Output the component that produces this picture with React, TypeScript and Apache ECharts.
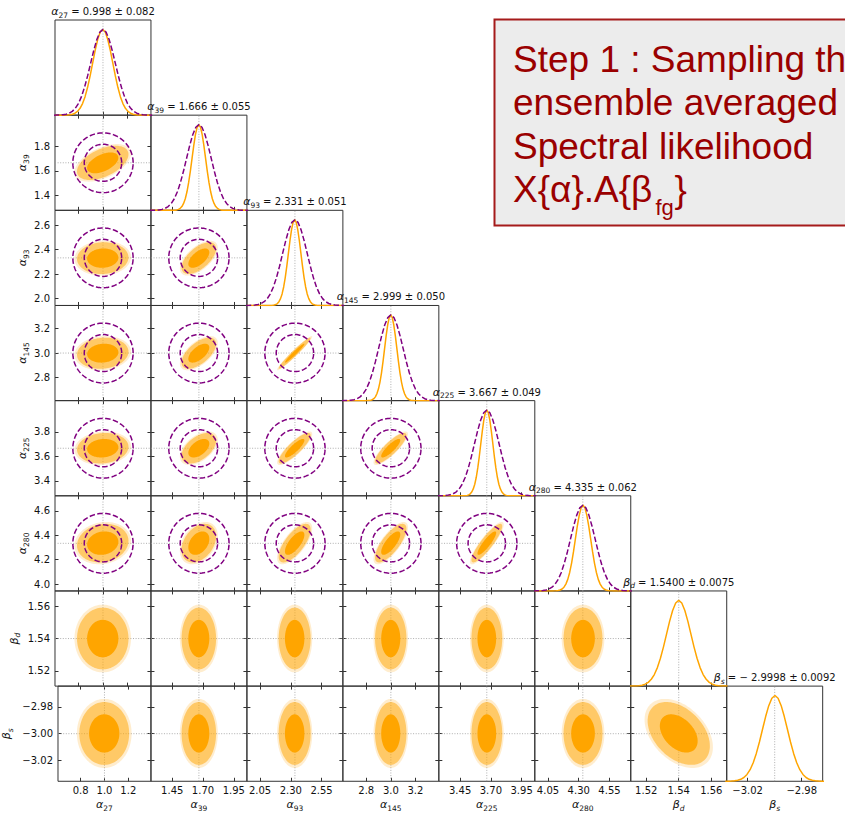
import React, { useEffect, useRef } from "react";
import * as echarts from "echarts";

// ---------------- data ----------------
const PARAM_SYMBOL = ["α", "α", "α", "α", "α", "α", "β", "β"];
const PARAM_SUB = ["27", "39", "93", "145", "225", "280", "d", "s"];
const SUB_ITALIC = [false, false, false, false, false, false, true, true];
const TRUTH = [1.0, 1.6667, 2.3333, 3.0, 3.6667, 4.3333, 1.54, -3.0];
const POST_MEAN = [0.998, 1.666, 2.331, 2.999, 3.667, 4.335, 1.54, -2.9998];
const POST_SIGMA = [0.082, 0.055, 0.051, 0.05, 0.049, 0.062, 0.0075, 0.0092];
const TITLE_VALUE = [
  "0.998 ± 0.082",
  "1.666 ± 0.055",
  "2.331 ± 0.051",
  "2.999 ± 0.050",
  "3.667 ± 0.049",
  "4.335 ± 0.062",
  "1.5400 ± 0.0075",
  "− 2.9998 ± 0.0092",
];
const PRIOR_SIGMA = [0.1, 0.1, 0.1, 0.1, 0.1, 0.1, 0, 0]; // 0 : no prior drawn
const AXIS_MIN = [0.61, 1.277, 1.943, 2.61, 3.277, 3.943, 1.5105, -3.0355];
const AXIS_MAX = [1.39, 2.057, 2.723, 3.39, 4.057, 4.723, 1.5695, -2.9645];
const X_TICKS = [
  [0.8, 1.0, 1.2],
  [1.45, 1.7, 1.95],
  [2.05, 2.3, 2.55],
  [2.8, 3.0, 3.2],
  [3.45, 3.7, 3.95],
  [4.05, 4.3, 4.55],
  [1.52, 1.54, 1.56],
  [-3.02, -2.98],
];
const X_DECIMALS = [1, 2, 2, 1, 2, 2, 2, 2];
const Y_TICKS = [
  [],
  [1.4, 1.6, 1.8],
  [2.0, 2.2, 2.4, 2.6],
  [2.8, 3.0, 3.2],
  [3.4, 3.6, 3.8],
  [4.0, 4.2, 4.4, 4.6],
  [1.52, 1.54, 1.56],
  [-3.02, -3.0, -2.98],
];
const Y_DECIMALS = [1, 1, 1, 1, 1, 1, 2, 2];
// correlation of (row param, column param), lower triangle
const RHO = [
  [],
  [0.5],
  [0.05, 0.6],
  [0.1, 0.6, 0.97],
  [0.1, 0.5, 0.85, 0.85],
  [0.12, 0.35, 0.7, 0.75, 0.88],
  [0.0, 0.0, 0.0, 0.0, 0.0, 0.0],
  [0.0, 0.0, 0.0, 0.0, 0.0, 0.0, -0.4],
];
const CLOUD_LEVELS = [2.8, 2.55, 1.55];
const PRIOR_LEVELS = [1.52, 2.45];
// normalised 1D profile (offset in sigma, height)
const PROFILE_OFFSET = [
  -4, -3.75, -3.5, -3.25, -3, -2.75, -2.5, -2.25, -2, -1.75, -1.5, -1.25, -1, -0.75, -0.5, -0.25, 0,
  0.25, 0.5, 0.75, 1, 1.25, 1.5, 1.75, 2, 2.25, 2.5, 2.75, 3, 3.25, 3.5, 3.75, 4,
];
const PROFILE_HEIGHT = [
  0.0, 0.001, 0.002, 0.005, 0.011, 0.023, 0.044, 0.08, 0.135, 0.216, 0.325, 0.458, 0.607, 0.755, 0.882, 0.969, 1.0,
  0.969, 0.882, 0.755, 0.607, 0.458, 0.325, 0.216, 0.135, 0.08, 0.044, 0.023, 0.011, 0.005, 0.002, 0.001, 0.0,
];
const BOX_LINES = ["Step 1 : Sampling the", "ensemble averaged", "Spectral likelihood"];
const BOX_LAST = ["X{α}.A{β", "fg", "}"];

// ---------------- style ----------------
const FONT = "DejaVu Sans";
const BOX_FONT = "Liberation Sans";
const TXT = "#111";
const AX = "#333";
const ORANGE = "#FFA500";
const PURPLE = "#800080";
const BOX_RED = "#9a0000";
const N = 8;
const LEFT = 55;
const TOP = 20;
const CW = 95.96;
const CH = 95.16;
const TICK_LEN = 3.5;
const DASH = [5.5, 2.4];
const Y_NAME_GAP = [25, 25, 25, 25, 25, 25, 33.5, 44];

const fmt = (v: number, d: number) => v.toFixed(d).replace("-", "\u2212");

const subStyle = (italic: boolean) => ({
  fontFamily: FONT,
  fontSize: 7.5,
  fontStyle: italic ? "italic" : "normal",
  color: TXT,
  fill: TXT,
  verticalAlign: "bottom",
});
const RICH = {
  g: { fontFamily: FONT, fontStyle: "italic", fontSize: 11, color: TXT, fill: TXT, lineHeight: 15 },
  s: subStyle(false),
  si: subStyle(true),
  n: { fontFamily: FONT, fontSize: 10, color: TXT, fill: TXT, lineHeight: 15 },
};
const symText = (p: number) =>
  `{g|${PARAM_SYMBOL[p]}}{${SUB_ITALIC[p] ? "si" : "s"}|${PARAM_SUB[p]}}`;

function ellipse(api: any, cx: number, cy: number, sx: number, sy: number, rho: number, k: number) {
  const pts: number[][] = [];
  const c = Math.sqrt(Math.max(0, 1 - rho * rho));
  const n = 120;
  for (let m = 0; m < n; m++) {
    const t = (m / n) * Math.PI * 2;
    const x = cx + k * sx * Math.cos(t);
    const y = cy + k * sy * (rho * Math.cos(t) + c * Math.sin(t));
    pts.push(api.coord([x, y]));
  }
  return pts;
}

function buildOption() {
  const grid: any[] = [];
  const xAxis: any[] = [];
  const yAxis: any[] = [];
  const series: any[] = [];
  const graphic: any[] = [];

  const tickCfg = (vals: number[]) => ({
    show: true,
    inside: true,
    length: TICK_LEN,
    customValues: vals,
    lineStyle: { color: AX, width: 1 },
  });
  const labelCfg = (show: boolean, vals: number[], dec: number, margin: number) => ({
    show,
    customValues: vals,
    margin,
    fontSize: 10,
    fontFamily: FONT,
    color: TXT,
    formatter: (v: number) => fmt(v, dec),
  });
  const truthLine = (data: number[][], xi: number, yi: number) => ({
    type: "line",
    xAxisIndex: xi,
    yAxisIndex: yi,
    data,
    showSymbol: false,
    symbol: "none",
    silent: true,
    z: 1,
    lineStyle: { color: "#9a9a9a", width: 0.8, type: [1, 1.6] },
  });

  for (let i = 0; i < N; i++) {
    for (let j = 0; j <= i; j++) {
      const g = grid.length;
      const diag = i === j;
      const bottomRow = i === N - 1;
      grid.push({
        left: LEFT + j * CW,
        top: TOP + i * CH,
        width: CW,
        height: CH,
        show: true,
        borderColor: AX,
        borderWidth: 1,
        backgroundColor: "transparent",
      });
      const xb = xAxis.length;
      xAxis.push({
        type: "value",
        gridIndex: g,
        position: "bottom",
        min: AXIS_MIN[j],
        max: AXIS_MAX[j],
        axisLine: { show: false },
        splitLine: { show: false },
        axisTick: tickCfg(X_TICKS[j]),
        axisLabel: labelCfg(bottomRow, X_TICKS[j], X_DECIMALS[j], 4),
        name: bottomRow ? symText(j) : "",
        nameLocation: "middle",
        nameGap: 16,
        nameTextStyle: { rich: RICH },
      });
      const yl = yAxis.length;
      if (diag) {
        yAxis.push({ type: "value", gridIndex: g, min: 0, max: 1.11, show: false, splitLine: { show: false } });
      } else {
        yAxis.push({
          type: "value",
          gridIndex: g,
          position: "left",
          min: AXIS_MIN[i],
          max: AXIS_MAX[i],
          axisLine: { show: false },
          splitLine: { show: false },
          axisTick: tickCfg(Y_TICKS[i]),
          axisLabel: labelCfg(j === 0, Y_TICKS[i], Y_DECIMALS[i], 5),
          name: j === 0 ? symText(i) : "",
          nameLocation: "middle",
          nameGap: Y_NAME_GAP[i],
          nameMoveOverlap: false,
          nameTextStyle: { rich: RICH },
        });
        xAxis.push({
          type: "value",
          gridIndex: g,
          position: "top",
          min: AXIS_MIN[j],
          max: AXIS_MAX[j],
          axisLine: { show: false },
          splitLine: { show: false },
          axisTick: tickCfg(X_TICKS[j]),
          axisLabel: { show: false },
        });
        yAxis.push({
          type: "value",
          gridIndex: g,
          position: "right",
          min: AXIS_MIN[i],
          max: AXIS_MAX[i],
          axisLine: { show: false },
          splitLine: { show: false },
          axisTick: tickCfg(Y_TICKS[i]),
          axisLabel: { show: false },
        });
      }

      if (diag) {
        const post = PROFILE_OFFSET.map((o, k) => [POST_MEAN[i] + o * POST_SIGMA[i], PROFILE_HEIGHT[k]]);
        post.unshift([AXIS_MIN[i], 0]);
        post.push([AXIS_MAX[i], 0]);
        series.push(truthLine([[TRUTH[i], 0], [TRUTH[i], 1.11]], xb, yl));
        series.push({
          type: "line",
          xAxisIndex: xb,
          yAxisIndex: yl,
          data: post,
          showSymbol: false,
          symbol: "none",
          silent: true,
          z: 3,
          lineStyle: { color: ORANGE, width: 1.5 },
        });
        if (PRIOR_SIGMA[i] > 0) {
          const prior = PROFILE_OFFSET.map((o, k) => [TRUTH[i] + o * PRIOR_SIGMA[i], PROFILE_HEIGHT[k]]);
          series.push({
            type: "line",
            xAxisIndex: xb,
            yAxisIndex: yl,
            data: prior,
            showSymbol: false,
            symbol: "none",
            silent: true,
            z: 4,
            lineStyle: { color: PURPLE, width: 1.5, type: DASH },
          });
        }
        // title
        graphic.push({
          type: "text",
          x: LEFT + (j + 0.5) * CW,
          y: TOP + i * CH - 8.5,
          z: 10,
          style: {
            text: `${symText(i)}{n| = ${TITLE_VALUE[i]}}`,
            rich: RICH,
            align: "center",
            verticalAlign: "middle",
            fontFamily: FONT,
            fontSize: 10,
            fill: TXT,
          },
        });
      } else {
        series.push(truthLine([[TRUTH[j], AXIS_MIN[i]], [TRUTH[j], AXIS_MAX[i]]], xb, yl));
        series.push(truthLine([[AXIS_MIN[j], TRUTH[i]], [AXIS_MAX[j], TRUTH[i]]], xb, yl));
        const sx = POST_SIGMA[j];
        const sy = POST_SIGMA[i];
        const rho = RHO[i][j];
        series.push({
          type: "custom",
          xAxisIndex: xb,
          yAxisIndex: yl,
          clip: true,
          silent: true,
          z: 2,
          data: [[POST_MEAN[j], POST_MEAN[i]]],
          renderItem: (_p: any, api: any) => {
            const cx = api.value(0);
            const cy = api.value(1);
            const fills = ["rgba(255,185,60,0.25)", "rgba(255,165,0,0.5)", ORANGE];
            return {
              type: "group",
              children: CLOUD_LEVELS.map((k, m) => ({
                type: "polygon",
                shape: { points: ellipse(api, cx, cy, sx, sy, rho, k) },
                style: { fill: fills[m], stroke: null },
              })),
            };
          },
        });
        if (PRIOR_SIGMA[i] > 0 && PRIOR_SIGMA[j] > 0) {
          const px = PRIOR_SIGMA[j];
          const py = PRIOR_SIGMA[i];
          series.push({
            type: "custom",
            xAxisIndex: xb,
            yAxisIndex: yl,
            clip: true,
            silent: true,
            z: 4,
            data: [[TRUTH[j], TRUTH[i]]],
            renderItem: (_p: any, api: any) => {
              const cx = api.value(0);
              const cy = api.value(1);
              return {
                type: "group",
                children: PRIOR_LEVELS.map((k) => ({
                  type: "polygon",
                  shape: { points: ellipse(api, cx, cy, px, py, 0, k) },
                  style: { fill: "none", stroke: PURPLE, lineWidth: 1.5, lineDash: DASH },
                })),
              };
            },
          });
        }
      }
    }
  }

  // annotation box
  graphic.push({
    type: "rect",
    z: 20,
    shape: { x: 494.5, y: 19.5, width: 420, height: 206 },
    style: { fill: "#ececec", stroke: "#a51b1b", lineWidth: 2 },
  });
  graphic.push({
    type: "text",
    z: 21,
    x: 513,
    y: 38,
    style: {
      text: BOX_LINES.join("\n"),
      fontFamily: BOX_FONT,
      fontSize: 37,
      lineHeight: 43.3,
      fill: BOX_RED,
      align: "left",
      verticalAlign: "top",
    },
  });
  const lastY = 38 + 3 * 43.3;
  graphic.push({
    type: "text",
    z: 21,
    x: 513,
    y: lastY,
    style: { text: BOX_LAST[0], fontFamily: BOX_FONT, fontSize: 37, lineHeight: 43.3, fill: BOX_RED, verticalAlign: "top" },
  });
  graphic.push({
    type: "text",
    z: 21,
    x: 655.5,
    y: lastY + 27,
    style: { text: BOX_LAST[1], fontFamily: BOX_FONT, fontSize: 22, lineHeight: 26, fill: BOX_RED, verticalAlign: "top" },
  });
  graphic.push({
    type: "text",
    z: 21,
    x: 674.5,
    y: lastY,
    style: { text: BOX_LAST[2], fontFamily: BOX_FONT, fontSize: 37, lineHeight: 43.3, fill: BOX_RED, verticalAlign: "top" },
  });

  return {
    animation: false,
    backgroundColor: "#fff",
    textStyle: { fontFamily: FONT },
    grid,
    xAxis,
    yAxis,
    series,
    graphic,
  };
}

export default function App() {
  const ref = useRef<HTMLDivElement>(null);
  useEffect(() => {
    document.body.style.margin = "0";
    const chart = echarts.init(ref.current!, null, { renderer: "svg" });
    chart.setOption(buildOption() as any);
    return () => chart.dispose();
  }, []);
  return <div ref={ref} style={{ width: 845, height: 816, overflow: "hidden" }} />;
}
